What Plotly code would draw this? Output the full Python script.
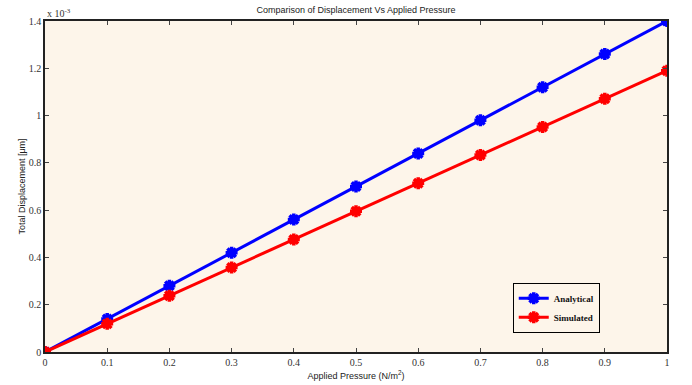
import plotly.graph_objects as go

pressure = [0, 0.1, 0.2, 0.3, 0.4, 0.5, 0.6, 0.7, 0.8, 0.9, 1.0]
analytical = [0, 0.14, 0.28, 0.42, 0.56, 0.70, 0.84, 0.98, 1.12, 1.26, 1.40]
simulated = [0, 0.119, 0.238, 0.357, 0.476, 0.595, 0.714, 0.833, 0.952, 1.071, 1.19]
xticks = [0, 0.1, 0.2, 0.3, 0.4, 0.5, 0.6, 0.7, 0.8, 0.9, 1.0]
xticklabels = ["0", "0.1", "0.2", "0.3", "0.4", "0.5", "0.6", "0.7", "0.8", "0.9", "1"]
yticks = [0, 0.2, 0.4, 0.6, 0.8, 1.0, 1.2, 1.4]
yticklabels = ["0", "0.2", "0.4", "0.6", "0.8", "1", "1.2", "1.4"]

fig = go.Figure()
for name, vals, col in [("Analytical", analytical, "#0000ff"), ("Simulated", simulated, "#ff0000")]:
    fig.add_trace(go.Scatter(
        x=pressure, y=vals, name=name, mode="lines+markers",
        line=dict(color=col, width=3),
        marker=dict(symbol="asterisk-open", size=10, color=col, line=dict(color=col, width=3.5)),
    ))

tickfont = dict(family="Liberation Serif, Times New Roman, serif", size=10, color="#333333")
fig.update_layout(
    width=692, height=385,
    margin=dict(l=45, r=25, t=21, b=33, autoexpand=False),
    paper_bgcolor="white",
    plot_bgcolor="#fdf5ea",
    title=dict(text="Comparison of Displacement Vs Applied Pressure",
               font=dict(family="Liberation Sans, Arial, sans-serif", size=9, color="#222222"),
               x=0.5, xref="paper", y=0.974, yanchor="middle"),
    showlegend=True,
    legend=dict(x=0.752, y=0.134, xanchor="left", yanchor="middle",
                bgcolor="#fdf5ea", bordercolor="black", borderwidth=1,
                font=dict(family="Liberation Serif, Times New Roman, serif", size=9, color="#111111",
                          weight="bold"),
                tracegroupgap=0, itemwidth=30),
    xaxis=dict(range=[0, 1], tickvals=xticks, ticktext=xticklabels, ticks="inside", ticklen=4,
               showgrid=False, zeroline=False, showline=True, linecolor="#222222", linewidth=1.5,
               mirror="ticks", tickfont=tickfont, automargin=False,
               title=dict(text="Applied Pressure (N/m<sup>2</sup>)", standoff=6,
                          font=dict(family="Liberation Sans, Arial, sans-serif", size=9, color="#222222"))),
    yaxis=dict(range=[0, 1.4], tickvals=yticks, ticktext=yticklabels, ticks="inside", ticklen=4,
               showgrid=False, zeroline=False, showline=True, linecolor="#222222", linewidth=1.5,
               mirror="ticks", tickfont=tickfont, automargin=False,
               title=dict(text="Total Displacement [μm]", standoff=2,
                          font=dict(family="Liberation Sans, Arial, sans-serif", size=9, color="#222222"))),
)
fig.add_annotation(text="x 10<sup>-3</sup>", xref="paper", yref="paper", x=0, y=1.0,
                   xanchor="left", yanchor="bottom", showarrow=False,
                   font=dict(family="Liberation Serif, Times New Roman, serif", size=10, color="#333333"))

fig.write_html("out.html", config={"displayModeBar": False},
               post_script="document.body.style.margin='0';")
